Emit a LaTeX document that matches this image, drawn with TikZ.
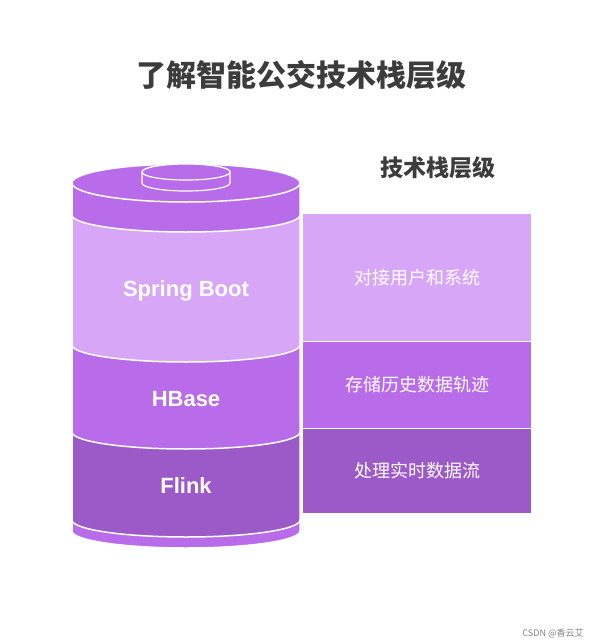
\documentclass[tikz,border=0pt]{standalone}
\usepackage{fontspec}
\setmainfont{Liberation Sans}
\newfontfamily\cjk{Noto Sans CJK SC}
\definecolor{cLight}{HTML}{D8A6F7}
\definecolor{cMid}{HTML}{B86CEA}
\definecolor{cDark}{HTML}{9C5AC9}
\definecolor{cTitle}{HTML}{3C3C3C}
\begin{document}
\begin{tikzpicture}[x=1pt,y=-1pt,
  band/.style={draw=white,line width=1.5pt},
  lbl/.style={text=white,font=\bfseries\fontsize{22}{26}\selectfont},
  rlbl/.style={text=white,font=\cjk\fontsize{18}{21}\selectfont},
  rbox/.style={draw=white,line width=1.2pt,minimum width=229pt,anchor=north west,inner sep=0pt}]
\useasboundingbox (0,0) rectangle (601,643);
\node (title) at (301,75) {\cjk\bfseries\fontsize{30}{34}\selectfont\color{cTitle}了解智能公交技术栈层级};
\node (sub) at (438,168) {\cjk\bfseries\fontsize{23}{26}\selectfont\color{cTitle}技术栈层级};
% cylinder bands, bottom to top
\def\band#1#2#3{\path[fill=#3,band] (72,#1) -- (72,#2) arc[start angle=180,end angle=0,x radius=114,y radius=17] -- (300,#1) arc[start angle=0,end angle=-180,x radius=114,y radius=17] -- cycle;}
\band{520}{531}{cMid}
\band{432}{520}{cDark}
\band{345}{432}{cMid}
\band{215}{345}{cLight}
\band{183}{215}{cMid}
\path[fill=cMid,band] (186,183) ellipse[x radius=114,y radius=19];
% small top cylinder
\path[fill=cMid,draw=white,line width=1.2pt] (142,172) -- (142,183) arc[start angle=180,end angle=0,x radius=44,y radius=8] -- (230,172) arc[start angle=0,end angle=-180,x radius=44,y radius=8] -- cycle;
\path[fill=cMid,draw=white,line width=1.2pt] (186,172) ellipse[x radius=44,y radius=8];
\node[lbl] (sb) at (186,291) {Spring Boot};
\node[lbl] (hb) at (186,399) {HBase};
\node[lbl] (fl) at (186,486) {Flink};
% right boxes
\node[rbox,fill=cLight,minimum height=128pt] (r1) at (302,213) {};
\node[rbox,fill=cMid,minimum height=87pt] (r2) at (302,341) {};
\node[rbox,fill=cDark,minimum height=85pt] (r3) at (302,428) {};
\node[rlbl] at (r1.center) {对接用户和系统};
\node[rlbl] at (r2.center) {存储历史数据轨迹};
\node[rlbl] at (r3.center) {处理实时数据流};
\node[text=gray,font=\cjk\fontsize{9}{10}\selectfont] (wm) at (553,633) {CSDN @香云艾};
\end{tikzpicture}
\end{document}
